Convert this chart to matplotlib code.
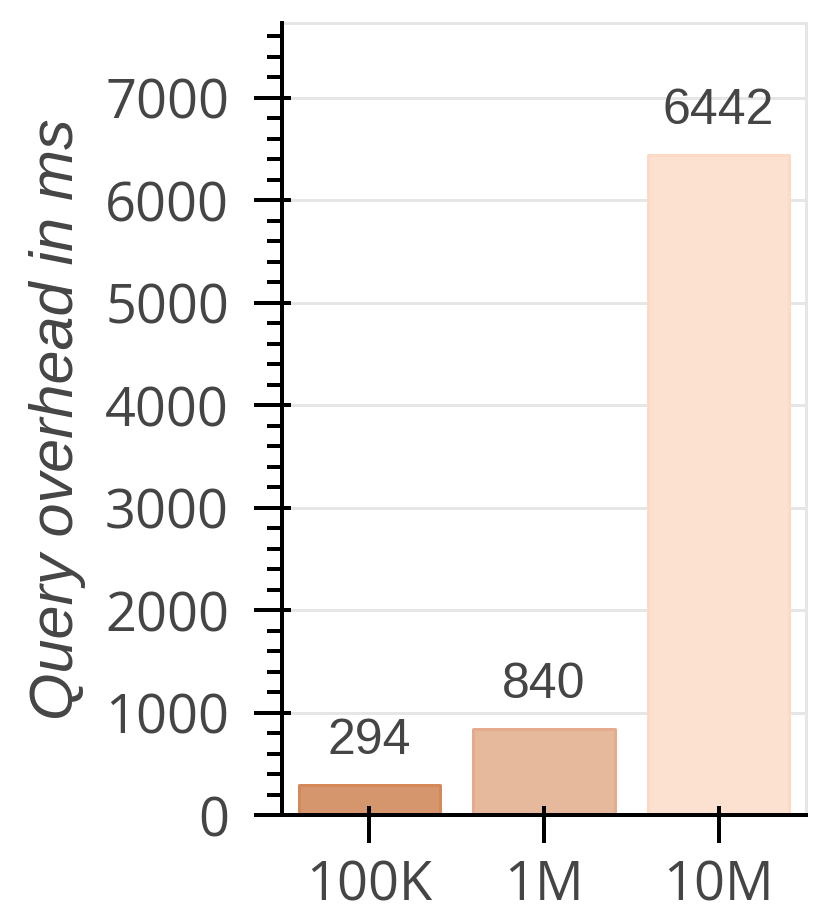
import numpy as np
import matplotlib
matplotlib.use('Agg')
from matplotlib import pyplot as plt
from matplotlib.ticker import MultipleLocator

sizes = ['100K', '1M', '10M']
overhead = [294, 840, 6442]
faces = ['#d5966d', '#e7b99c', '#fde1d0']
edges = ['#d68958', '#e4ac8c', '#fcdac6']
txt = '#454545'
grid_c = '#e6e6e6'

px = 72 / 100  # points per pixel at dpi 100

fig = plt.figure(figsize=(8.3, 9.23), dpi=100)
ax = fig.add_axes([0.3398, 0.117, 0.6313, 0.858])
x = np.arange(len(sizes))
ax.bar(x, overhead, width=0.81, color=faces, edgecolor=edges, linewidth=3 * px,
       joinstyle='round', zorder=2)
for xi, v in zip(x, overhead):
    ax.annotate(str(v), (xi, v), xytext=(0, 31 * px), textcoords='offset points',
                ha='center', va='baseline', fontsize=36,
                family=['Liberation Sans', 'DejaVu Sans'], color=txt)

ax.set_xlim(-0.5, 2.5)
ax.set_ylim(0, max(overhead) * 1.2)
ax.set_xticks(x)
ax.set_xticklabels(sizes)
ax.yaxis.set_major_locator(MultipleLocator(1000))
ax.yaxis.set_minor_locator(MultipleLocator(200))
ax.grid(axis='y', color=grid_c, linewidth=3 * px, zorder=0)
ax.set_axisbelow(True)

for s in ['top', 'right']:
    ax.spines[s].set_color(grid_c)
    ax.spines[s].set_linewidth(3 * px)
for s in ['left', 'bottom']:
    ax.spines[s].set_color('black')
    ax.spines[s].set_linewidth(4 * px)
    ax.spines[s].set_zorder(3)

ax.tick_params(which='major', direction='out', length=28 * px, width=4 * px,
               color='black', labelsize=39, labelcolor=txt, pad=18)
ax.tick_params(axis='x', which='major', pad=11)
ax.tick_params(axis='y', which='minor', direction='out', length=15 * px,
               width=4 * px, color='black')
ax.tick_params(axis='x', which='minor', bottom=False)
for lab in ax.get_xticklabels() + ax.get_yticklabels():
    lab.set_family(['Open Sans', 'DejaVu Sans'])

ax.set_ylabel('Query overhead in ms', fontsize=44, style='italic',
              family=['Liberation Sans', 'DejaVu Sans'], color=txt)
ax.yaxis.set_label_coords(-0.375, 0.5)

# short inward stubs of the major ticks
ax_in = fig.add_axes(ax.get_position(), sharex=ax, sharey=ax, frameon=False)
ax_in.patch.set_visible(False)
ax_in.tick_params(which='major', direction='in', length=9 * px, width=4 * px,
                  color='black', labelleft=False, labelbottom=False)
ax_in.tick_params(which='minor', left=False, bottom=False)

fig.savefig('out.png', dpi=100)
